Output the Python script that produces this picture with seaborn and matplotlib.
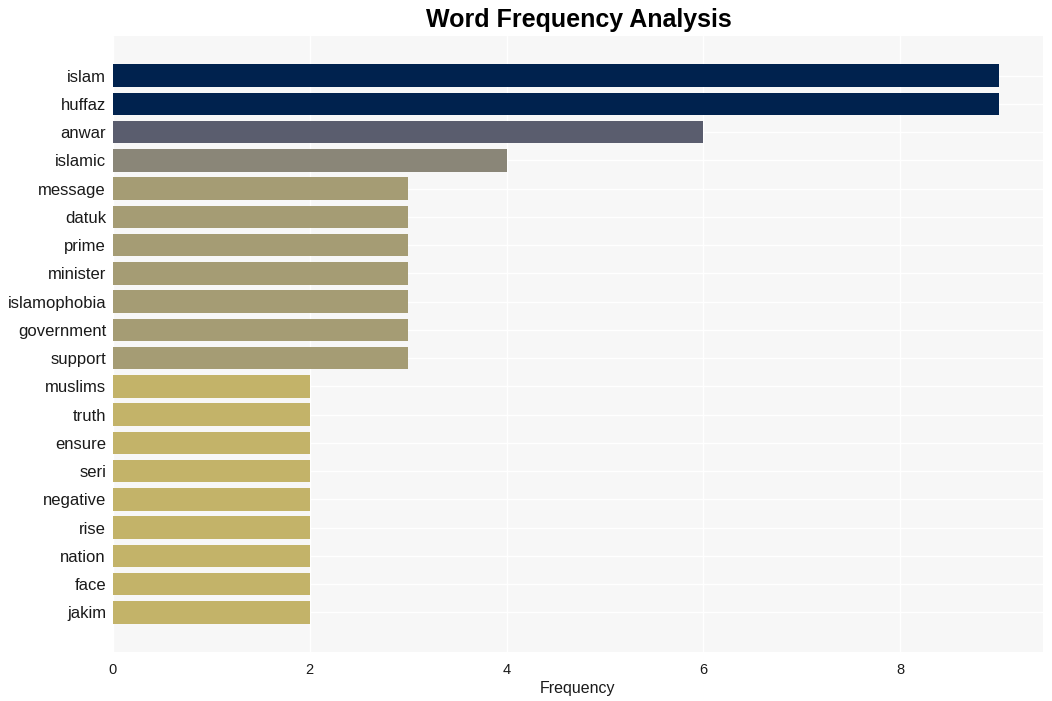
import matplotlib
matplotlib.use("Agg")
import matplotlib.pyplot as plt
import seaborn as sns
import pandas as pd

words = ["islam", "huffaz", "anwar", "islamic", "message", "datuk", "prime", "minister",
         "islamophobia", "government", "support", "muslims", "truth", "ensure", "seri",
         "negative", "rise", "nation", "face", "jakim"]
counts = [9, 9, 6, 4, 3, 3, 3, 3, 3, 3, 3, 2, 2, 2, 2, 2, 2, 2, 2, 2]

value_colors = {9: "#00224E", 6: "#5A5D6E", 4: "#8A8678", 3: "#A59C74", 2: "#C3B369"}

df = pd.DataFrame({"word": words, "count": counts})

sns.set_theme(style="whitegrid")
plt.rcParams["font.family"] = ["Liberation Sans", "DejaVu Sans"]

fig = plt.figure(figsize=(10.52, 7.01), dpi=100)
ax = fig.add_axes([0.1074, 0.0699, 0.8840, 0.8787])
ax.set_facecolor("#F7F7F7")

palette = [value_colors[c] for c in counts]
sns.barplot(data=df, x="count", y="word", hue="word", palette=palette, legend=False,
            width=0.8, ax=ax, saturation=1, linewidth=0)

ax.set_ylim(len(words) - 1 + 1.4, -1.4)
ax.set_xlim(0, 9 * 1.05)
ax.set_xticks([0, 2, 4, 6, 8])
ax.grid(True, color="white", linewidth=1)
ax.set_axisbelow(True)
for s in ax.spines.values():
    s.set_visible(False)
ax.tick_params(axis="y", labelsize=12, length=0, pad=5, colors="#1a1a1a")
ax.tick_params(axis="x", labelsize=10.5, length=0, pad=8, colors="#1a1a1a")
ax.set_ylabel("")
ax.set_xlabel("Frequency", fontsize=11.5, color="#1a1a1a", labelpad=3)
fig.suptitle("Word Frequency Analysis", fontsize=18, fontweight="bold", y=0.988, x=0.55,
             color="black")

fig.savefig("out.png", dpi=100, facecolor="white")
